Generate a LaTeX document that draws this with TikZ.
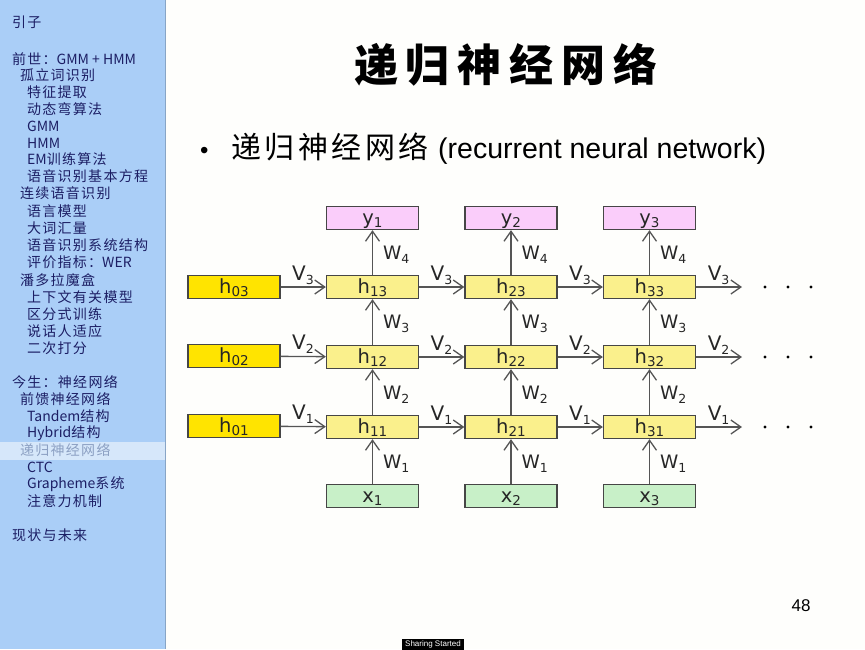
\documentclass[tikz,border=0pt]{standalone}
\usepackage{fontspec}
\usetikzlibrary{arrows.meta}
\setmainfont{Liberation Sans}
\newfontfamily\cjk{Noto Sans CJK SC}
\newfontfamily\cjkside[LetterSpace=9]{Noto Sans CJK SC}
\newfontfamily\dejavu{DejaVu Sans}
\definecolor{sidebar}{RGB}{170,206,247}
\definecolor{sidehi}{RGB}{214,231,250}
\definecolor{navy}{RGB}{28,30,100}
\definecolor{hitext}{RGB}{140,160,195}
\definecolor{pagebg}{RGB}{254,254,252}
\definecolor{hzero}{RGB}{255,228,0}
\definecolor{hbox}{RGB}{250,240,140}
\definecolor{ybox}{RGB}{250,205,250}
\definecolor{xbox}{RGB}{200,240,200}
\definecolor{boxline}{RGB}{70,70,70}
\definecolor{arrowgray}{RGB}{85,85,85}
\newcommand\bsub[1]{\raisebox{-3.5pt}{\fontsize{13.5}{13.5}\selectfont #1}}
\newcommand\lsub[1]{\raisebox{-4pt}{\fontsize{12.5}{12.5}\selectfont #1}}
\newcommand\lat[1]{{\cjk #1}}
\tikzset{
  side/.style={anchor=west, inner sep=0pt, text=navy, font=\cjkside\fontsize{14}{14}\selectfont},
  rnnbox/.style={draw=boxline, line width=1.3pt, minimum width=92pt, minimum height=23pt, inner sep=0pt,
    text height=12.5pt, text depth=0pt, text=black!85, font=\dejavu\fontsize{19.5}{19.5}\selectfont},
  hz/.style={rnnbox, fill=hzero},
  hh/.style={rnnbox, fill=hbox},
  yy/.style={rnnbox, fill=ybox},
  xx/.style={rnnbox, fill=xbox},
  arr/.style={draw=arrowgray, line width=1.3pt, -{Straight Barb[length=10pt,width=14pt,line width=1.3pt]}},
  vlab/.style={anchor=base west, inner sep=0pt, text=black!85, font=\dejavu\fontsize{20}{20}\selectfont},
  wlab/.style={anchor=west, inner sep=0pt, text=black!85, font=\dejavu\fontsize{18.5}{18.5}\selectfont},
  dots/.style={circle, fill=black, inner sep=0pt, minimum size=3.2pt},
}
\begin{document}
\begin{tikzpicture}[x=1pt,y=-1pt]
\useasboundingbox (0,0) rectangle (865,649);
\fill[pagebg] (0,0) rectangle (865,649);
% sidebar
\fill[sidebar] (0,0) rectangle (165,649);
\fill[sidehi] (0,442) rectangle (165,460);
\draw[sidebar!80!black, line width=0.6pt] (165,0) -- (165,649);
\node[side] (s1) at (12,22) {引子};
\node[side] (s2) at (12,59) {前世：\lat{GMM + HMM}};
\node[side] (s3) at (20,75) {孤立词识别};
\node[side] (s4) at (27,92) {特征提取};
\node[side] (s5) at (27,109) {动态弯算法};
\node[side] (s6) at (27,126) {\lat{GMM}};
\node[side] (s7) at (27,143) {\lat{HMM}};
\node[side] (s8) at (27,159) {\lat{EM}训练算法};
\node[side] (s9) at (27,176) {语音识别基本方程};
\node[side] (s10) at (20,193) {连续语音识别};
\node[side] (s11) at (27,211) {语言模型};
\node[side] (s12) at (27,228) {大词汇量};
\node[side] (s13) at (27,245) {语音识别系统结构};
\node[side] (s14) at (27,262) {评价指标：\lat{WER}};
\node[side] (s15) at (20,280) {潘多拉魔盒};
\node[side] (s16) at (27,297) {上下文有关模型};
\node[side] (s17) at (27,314) {区分式训练};
\node[side] (s18) at (27,331) {说话人适应};
\node[side] (s19) at (27,348) {二次打分};
\node[side] (s20) at (12,382) {今生：神经网络};
\node[side] (s21) at (20,399) {前馈神经网络};
\node[side] (s22) at (27,416) {\lat{Tandem}结构};
\node[side] (s23) at (27,433) {\lat{Hybrid}结构};
\node[side, text=hitext] (s24) at (20,450) {递归神经网络};
\node[side] (s25) at (27,467) {\lat{CTC}};
\node[side] (s26) at (27,484) {\lat{Grapheme}系统};
\node[side] (s27) at (27,501) {注意力机制};
\node[side] (s28) at (12,535) {现状与未来};
% title
\node[inner sep=0pt, font=\cjk\bfseries\fontsize{44}{44}\selectfont] (title) at (506,65)
  {递\hspace{8pt}归\hspace{8pt}神\hspace{8pt}经\hspace{8pt}网\hspace{8pt}络};
% bullet line
\node[anchor=base west, inner sep=0pt, font=\fontsize{24}{24}\selectfont] (bul) at (200,158) {•};
\node[anchor=base west, inner sep=0pt, font=\cjk\fontsize{30}{30}\selectfont] (bcjk) at (231,158)
  {递\hspace{3.5pt}归\hspace{3.5pt}神\hspace{3.5pt}经\hspace{3.5pt}网\hspace{3.5pt}络};
\node[anchor=base west, inner sep=0pt, font=\fontsize{28.5}{28.5}\selectfont] (blat) at (438,158) {(recurrent neural network)};
% boxes
\node[hz] (h03) at (234,287) {h\bsub{03}};
\node[hz] (h02) at (234,356) {h\bsub{02}};
\node[hz] (h01) at (234,426) {h\bsub{01}};
\foreach \c/\x in {1/372.5,2/511,3/649.5}{
  \node[yy] (y\c) at (\x,218) {y\bsub{\c}};
  \node[hh] (h\c3) at (\x,287) {h\bsub{\c3}};
  \node[hh] (h\c2) at (\x,357) {h\bsub{\c2}};
  \node[hh] (h\c1) at (\x,427) {h\bsub{\c1}};
  \node[xx] (x\c) at (\x,496) {x\bsub{\c}};
  \draw[arr] (x\c) -- node[wlab, xshift=10pt, pos=0.45]{W\lsub{1}} (h\c1);
  \draw[arr] (h\c1) -- node[wlab, xshift=10pt, pos=0.45]{W\lsub{2}} (h\c2);
  \draw[arr] (h\c2) -- node[wlab, xshift=10pt, pos=0.45]{W\lsub{3}} (h\c3);
  \draw[arr] (h\c3) -- node[wlab, xshift=10pt, pos=0.45]{W\lsub{4}} (y\c);
}
\foreach \r/\yy in {1/427,2/357,3/287}{
  \coordinate (e\r) at (742,\yy);
  \draw[arr] (h0\r) -- node[vlab, pos=0.24, yshift=7pt]{V\lsub{\r}} (h1\r);
  \draw[arr] (h1\r) -- node[vlab, pos=0.24, yshift=7pt]{V\lsub{\r}} (h2\r);
  \draw[arr] (h2\r) -- node[vlab, pos=0.24, yshift=7pt]{V\lsub{\r}} (h3\r);
  \draw[arr] (h3\r) -- node[vlab, pos=0.24, yshift=7pt]{V\lsub{\r}} (e\r);
  \node[dots] (d\r a) at (765,\yy) {};
  \node[dots] (d\r b) at (788,\yy) {};
  \node[dots] (d\r c) at (811,\yy) {};
}
% page number
\node[inner sep=0pt, font=\fontsize{17}{17}\selectfont] (pg) at (801,606) {48};
% sharing started
\node[fill=black, text=white, inner sep=1pt, minimum width=62pt, minimum height=11pt, font=\fontsize{8}{8}\selectfont] (share) at (433,644) {Sharing Started};
\end{tikzpicture}
\end{document}
